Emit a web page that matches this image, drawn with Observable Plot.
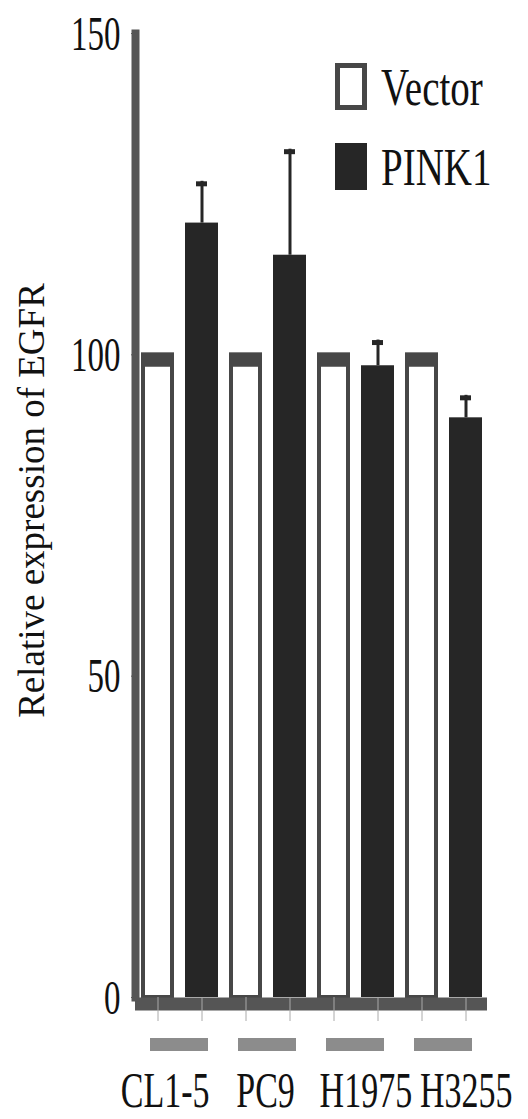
<!DOCTYPE html>
<html><head><meta charset="utf-8">
<script src="https://cdn.jsdelivr.net/npm/d3@7"></script>
<script src="https://cdn.jsdelivr.net/npm/@observablehq/plot@0.6"></script>
<style>
html,body{margin:0;padding:0;background:#fff;}
#wrap{position:relative;width:528px;height:1119px;overflow:hidden;}
#wrap svg text{font-family:"Liberation Serif",serif !important;}
#legend{position:absolute;left:335px;top:63px;font-family:"Liberation Serif",serif;}
.item{display:flex;align-items:center;height:47px;margin-bottom:33px;}
.sw{width:32px;height:47px;box-sizing:border-box;}
.lab{font-size:39px;margin-left:14px;transform:scaleY(1.35);transform-origin:center;line-height:1;color:#111;}
</style></head><body><div id="wrap"></div>
<script>
// ---- data ----
const cellLines = ["CL1-5", "PC9", "H1975", "H3255"];
const series = ["Vector", "PINK1"];
const vectorValues = [100, 100, 100, 100];
const vectorErrors = [0, 0, 0, 0];
const pink1Values = [120.5, 115.5, 98.3, 90.2];
const pink1Errors = [6.5, 16.5, 4, 3.5];
const yTicks = [0, 50, 100, 150];
const yLabel = "Relative expression of EGFR";

// ---- styles ----
const darkFill = "#262626";
const outline = "#474747";
const axisGrey = "#555";

const rows = cellLines.flatMap((c, i) => [
  {cell: c, series: series[0], value: vectorValues[i], err: vectorErrors[i]},
  {cell: c, series: series[1], value: pink1Values[i], err: pink1Errors[i]}
]);
const vec = rows.filter(d => d.series === series[0]);
const pink = rows.filter(d => d.series === series[1]);

const plot = Plot.plot({
  width: 528, height: 1119,
  marginLeft: 133, marginRight: 40, marginTop: 33, marginBottom: 122,
  style: {fontFamily: "Liberation Serif, serif", color: "#111", background: "#fff"},
  fx: {domain: cellLines, padding: 0},
  x: {domain: series, paddingInner: 0.25, paddingOuter: 0.125},
  y: {domain: [0, 150]},
  marks: [
    Plot.barY(vec, {fx: "cell", x: "series", y: "value", fill: "#fff", stroke: outline, strokeWidth: 4, insetLeft: 2, insetRight: 2}),
    Plot.tickY(vec, {fx: "cell", x: "series", y: "value", stroke: outline, strokeWidth: 12, dy: 6}),
    Plot.barY(pink, {fx: "cell", x: "series", y: "value", fill: darkFill}),
    Plot.ruleX(pink, {fx: "cell", x: "series", y1: "value", y2: d => d.value + d.err, stroke: darkFill, strokeWidth: 3}),
    Plot.tickY(pink, {fx: "cell", x: "series", y: d => d.value + d.err, stroke: darkFill, strokeWidth: 5, insetLeft: 11, insetRight: 11, dy: 2.5}),
    Plot.ruleY([0], {stroke: axisGrey, strokeWidth: 13, dy: 6.5}),
    Plot.ruleY([0], {stroke: "#8c8c8c", strokeWidth: 13, dy: 47, insetLeft: 15, insetRight: 15}),
    Plot.frame({anchor: "left", facetAnchor: "left", stroke: axisGrey, strokeWidth: 8}),
    Plot.axisY({ticks: yTicks, tickSize: 4, tickPadding: 11, fontSize: 33, label: yLabel, labelAnchor: "center", labelOffset: 118, stroke: axisGrey}),
    Plot.axisX({tickSize: 24, tickFormat: () => "", label: null, stroke: "#aaa"}),
    Plot.axisFx({anchor: "bottom", tickSize: 0, tickPadding: 80, fontSize: 34, label: null})
  ]
});

const wrap = document.getElementById("wrap");
wrap.append(plot);

// ---- legend (HTML overlay, built from the series) ----
const legendColors = {Vector: "#fff", PINK1: darkFill};
const legend = document.createElement("div");
legend.id = "legend";
series.forEach(s => {
  const item = document.createElement("div");
  item.className = "item";
  const sw = document.createElement("div");
  sw.className = "sw";
  sw.style.background = legendColors[s];
  sw.style.border = s === series[0] ? `5px solid ${outline}` : `2px solid ${darkFill}`;
  const lab = document.createElement("div");
  lab.className = "lab";
  lab.textContent = s;
  item.append(sw, lab);
  legend.append(item);
});
wrap.append(legend);

// ---- text post-processing (vertically stretched serif type) ----
const svg = wrap.querySelector("svg");
const svgRect = svg.getBoundingClientRect();
function stretch(el, sx, sy, shiftX = 0, shiftY = 0) {
  const b = el.getBBox();
  const cx = b.x + b.width / 2, cy = b.y + b.height / 2;
  const t = el.getAttribute("transform") || "";
  el.setAttribute("transform",
    `translate(${shiftX},${shiftY}) ${t} translate(${cx},${cy}) scale(${sx},${sy}) translate(${-cx},${-cy})`);
}
svg.querySelectorAll('g[aria-label="y-axis tick label"] text').forEach(el => stretch(el, 1, 1.5));
svg.querySelectorAll('g[aria-label="fx-axis tick label"] text').forEach(el => {
  const r = el.getBoundingClientRect();
  const cx = r.left + r.width / 2 - svgRect.left;
  stretch(el, 1, 1.5, (cx - 310) * 0.14 + 4, 0);
});
svg.querySelectorAll('g[aria-label="y-axis label"] text').forEach(el => {
  el.textContent = yLabel;
  el.setAttribute("font-size", 37);
  el.style.fontSize = "37px";
  const t = el.getAttribute("transform") || "";
  el.setAttribute("transform", `translate(0,-15) ${t}`);
});
</script>
</body></html>
